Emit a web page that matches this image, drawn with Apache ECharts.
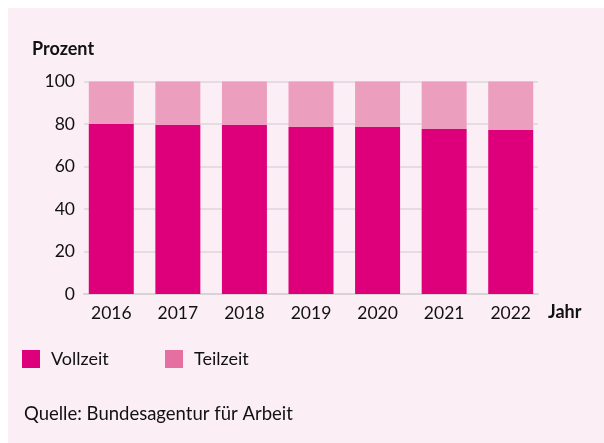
<!DOCTYPE html>
<html lang="de">
<head>
  <meta charset="UTF-8">
  <script src="https://cdn.jsdelivr.net/npm/echarts@6/dist/echarts.min.js"></script>
  <title>Vollzeit / Teilzeit</title>
  <style>
    html, body { margin: 0; padding: 0; background: #ffffff; }
    .panel { position: absolute; left: 8px; top: 8px; right: 0; bottom: 0; background: #fbeff5; }
    #chart { position: absolute; left: 0; top: 0; width: 604px; height: 443px; }
  </style>
</head>
<body>
  <div class="panel"></div>
  <div id="chart"></div>
  <script>
    // Daten
    var jahre = ['2016', '2017', '2018', '2019', '2020', '2021', '2022'];
    var vollzeit = [80.0, 79.5, 79.5, 78.6, 78.6, 77.6, 77.2];
    var teilzeit = [20.0, 20.5, 20.9, 21.4, 21.8, 22.4, 22.8];

    var schrift = 'Lato';
    var textFarbe = '#111111';

    var myChart = echarts.init(document.getElementById('chart'), null, {renderer: 'canvas'});

    var option = {
      backgroundColor: 'transparent',
      animation: false,
      textStyle: { fontFamily: schrift },
      legend: [
        {
          left: 22, top: 350, padding: 0,
          itemWidth: 18, itemHeight: 18,
          icon: 'rect',
          textStyle: { fontSize: 18, color: textFarbe, fontFamily: schrift, padding: [0, 0, 0, 6] },
          data: [{ name: 'Vollzeit', itemStyle: { color: '#de007a' } }]
        },
        {
          left: 165, top: 350, padding: 0,
          itemWidth: 18, itemHeight: 18,
          icon: 'rect',
          textStyle: { fontSize: 18, color: textFarbe, fontFamily: schrift, padding: [0, 0, 0, 6] },
          data: [{ name: 'Teilzeit', itemStyle: { color: '#e66fa1' } }]
        }
      ],
      // grid 0: Balken, grid 1: Gitterlinien + y-Achse
      grid: [
        { left: 78, top: 81.5, width: 466, height: 212.5 },
        { left: 84, top: 81.5, width: 454, height: 212.5 }
      ],
      xAxis: [
        {
          type: 'category', gridIndex: 0, data: jahre,
          axisLine: { show: false }, axisTick: { show: false },
          axisLabel: { fontSize: 17.5, color: textFarbe, fontFamily: schrift, margin: 10 }
        },
        {
          type: 'category', gridIndex: 1, data: jahre,
          axisLine: { show: true, lineStyle: { color: '#d9d3d7', width: 2 } },
          axisTick: { show: false }, axisLabel: { show: false }
        }
      ],
      yAxis: [
        { type: 'value', gridIndex: 0, min: 0, max: 100, show: false },
        {
          type: 'value', gridIndex: 1, min: 0, max: 100, interval: 20,
          axisLine: { show: false }, axisTick: { show: false },
          axisLabel: { fontSize: 17.5, color: textFarbe, fontFamily: schrift, margin: 9 },
          splitLine: { lineStyle: { color: '#ddd6db', width: 1.5 } }
        }
      ],
      graphic: [
        { type: 'text', left: 32, top: 40, style: { text: 'Prozent', fontSize: 18, fontWeight: 'bold', fill: textFarbe, fontFamily: schrift } },
        { type: 'text', left: 548, top: 303, style: { text: 'Jahr', fontSize: 18, fontWeight: 'bold', fill: textFarbe, fontFamily: schrift } },
        { type: 'text', left: 24, top: 405, style: { text: 'Quelle: Bundesagentur für Arbeit', fontSize: 18.5, fill: textFarbe, fontFamily: schrift } }
      ],
      series: [
        {
          name: 'Vollzeit', type: 'bar', stack: 'gesamt',
          xAxisIndex: 0, yAxisIndex: 0, barWidth: 45,
          itemStyle: { color: '#de007a' }, data: vollzeit
        },
        {
          name: 'Teilzeit', type: 'bar', stack: 'gesamt',
          xAxisIndex: 0, yAxisIndex: 0, barWidth: 45,
          itemStyle: { color: '#ec9ebe' }, data: teilzeit
        }
      ]
    };

    myChart.setOption(option);
  </script>
</body>
</html>
